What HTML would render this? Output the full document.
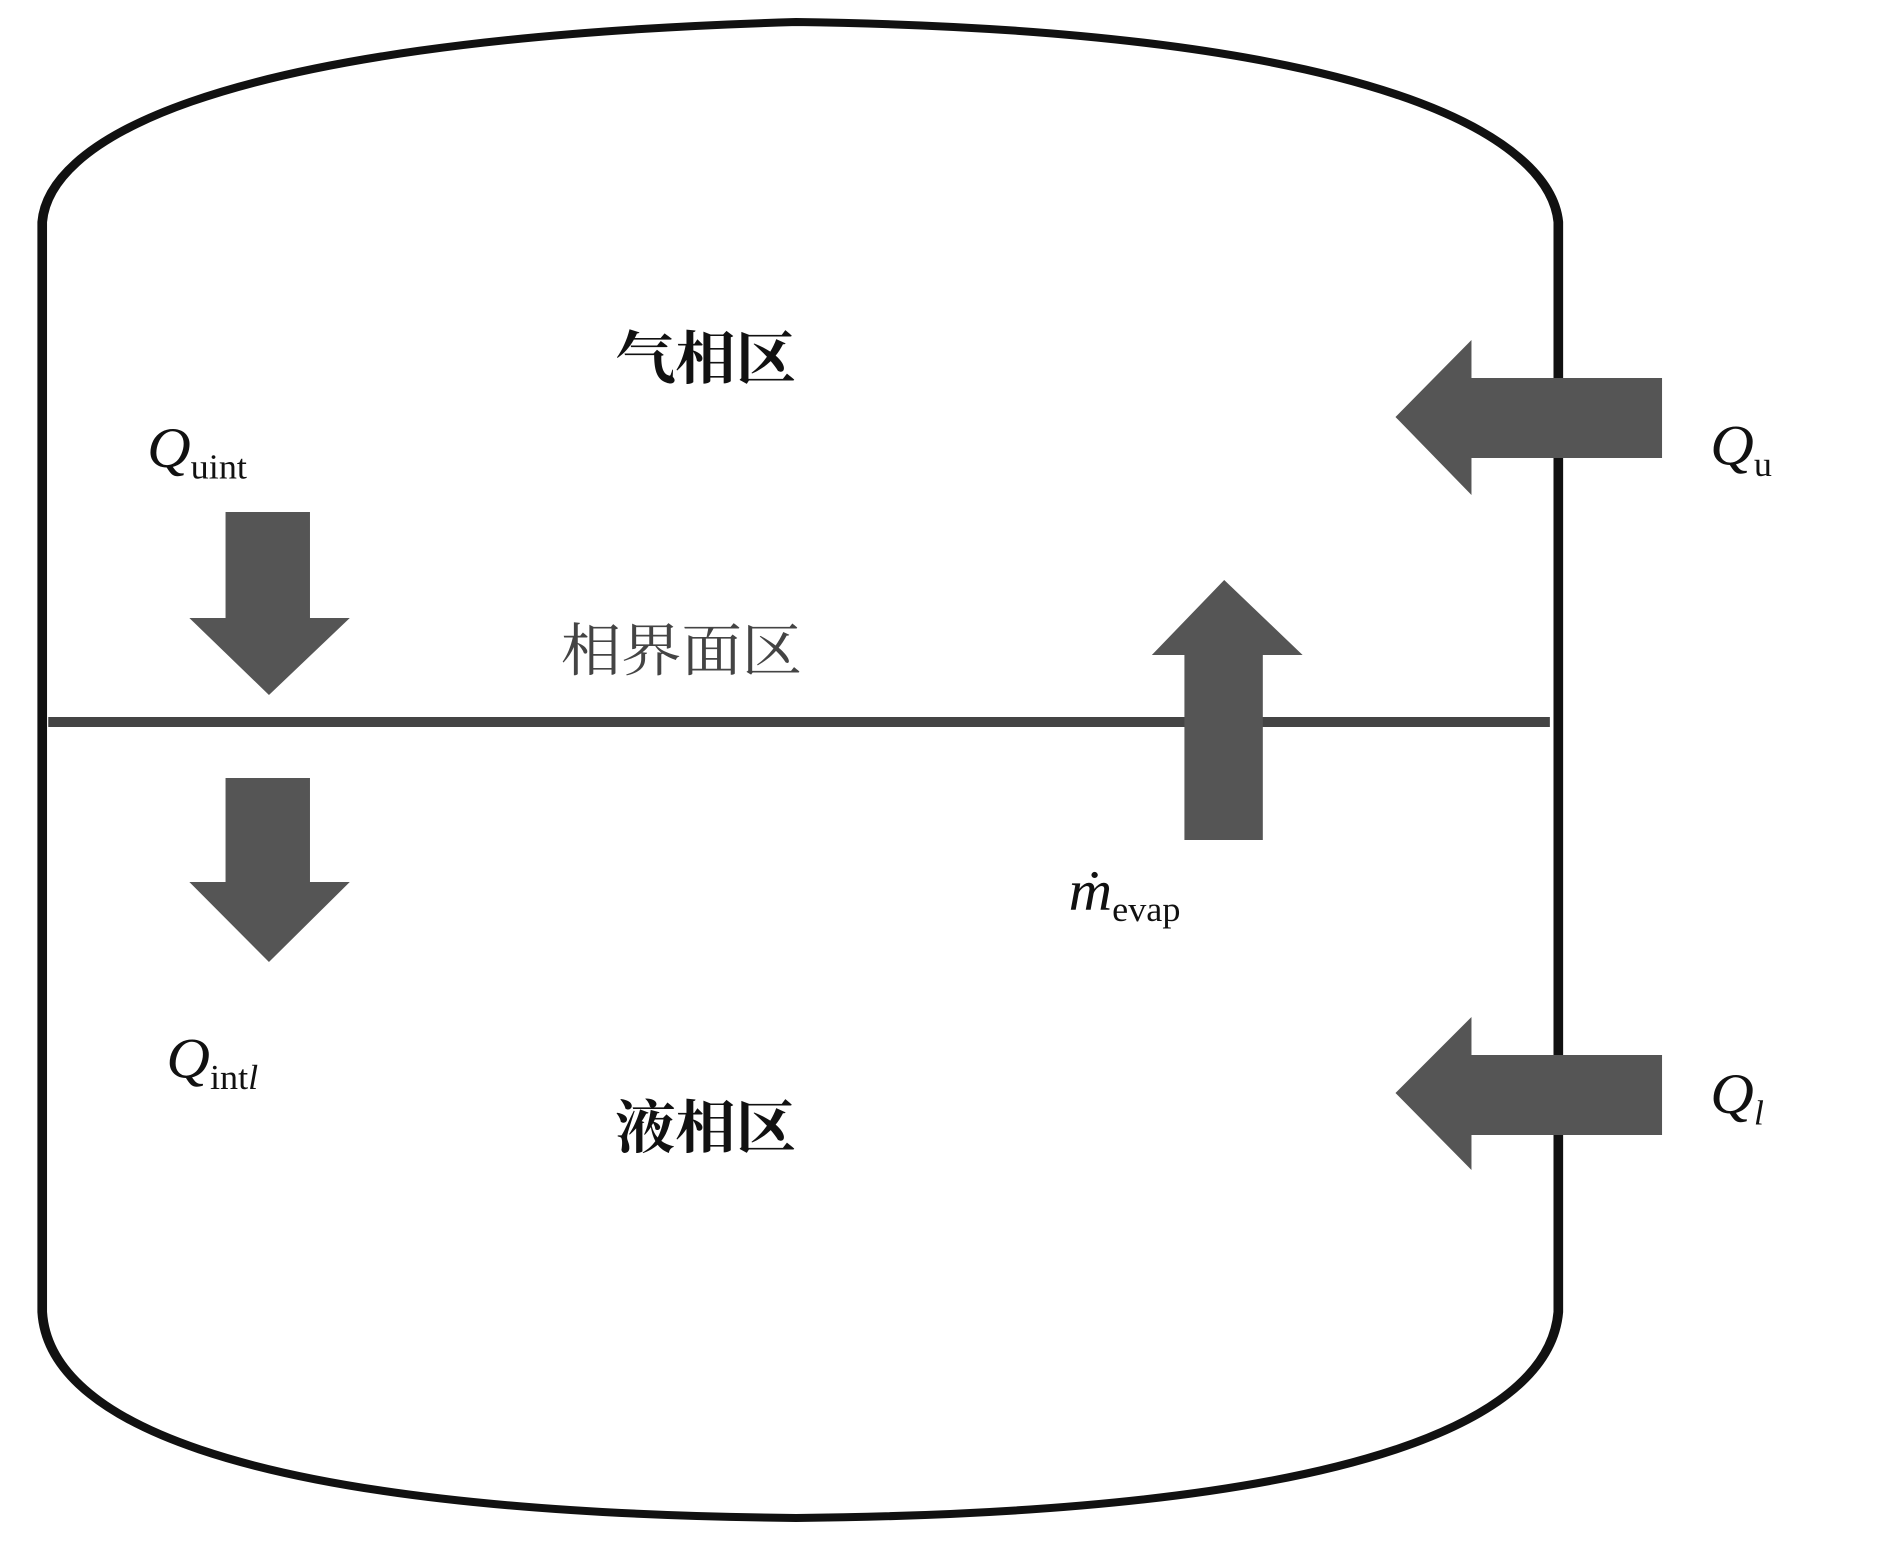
<!DOCTYPE html>
<html><head><meta charset="utf-8"><style>html,body{margin:0;padding:0;background:#fff}svg{display:block}</style></head>
<body>
<svg width="1890" height="1552" viewBox="0 0 1567 1552" preserveAspectRatio="none" xmlns="http://www.w3.org/2000/svg">
<g fill="none" stroke="#111" stroke-width="8">
<path d="M35 1312 L35 222 C40 150 150 40 660 22 C1150 30 1285 140 1292 222 L1292 1312 C1285 1410 1150 1512 660 1518 C170 1512 40 1410 35 1312 Z"/>
</g>
<line x1="40" y1="722" x2="1285" y2="722" stroke="#444" stroke-width="10"/>
<g fill="#555">
<polygon points="1378,378 1220,378 1220,340 1157,417 1220,495 1220,458 1378,458"/>
<polygon points="1378,1055 1220,1055 1220,1017 1157,1093 1220,1170 1220,1135 1378,1135"/>
<polygon points="187,512 257,512 257,618 290,618 223,695 157,618 187,618"/>
<polygon points="187,778 257,778 257,882 290,882 223,962 157,882 187,882"/>
<polygon points="982,840 1047,840 1047,655 1080,655 1015,580 955,655 982,655"/>
</g>
<g font-family="'Liberation Serif','Noto Serif CJK SC',serif" fill="#111">
<g transform="scale(1,1.15)">
<text x="585" y="329" font-size="50" font-weight="bold" text-anchor="middle">气相区</text>
<text x="565" y="583" font-size="50" fill="#444" text-anchor="middle">相界面区</text>
<text x="585" y="998" font-size="50" font-weight="bold" text-anchor="middle">液相区</text>
<text x="122" y="406" font-size="50" font-style="italic">Q<tspan font-size="30" font-style="normal" dy="10">uint</tspan></text>
<text x="1418" y="404" font-size="50" font-style="italic">Q<tspan font-size="30" font-style="normal" dy="10">u</tspan></text>
<text x="138" y="937" font-size="50" font-style="italic">Q<tspan font-size="30" font-style="normal" dy="10">int</tspan><tspan font-size="30" font-style="italic">l</tspan></text>
<text x="1418" y="968" font-size="50" font-style="italic">Q<tspan font-size="30" dy="10">l</tspan></text>
<text x="886" y="791" font-size="50" font-style="italic">ṁ<tspan font-size="30" font-style="normal" dy="10">evap</tspan></text>
</g>
</g>
</svg>
</body></html>
